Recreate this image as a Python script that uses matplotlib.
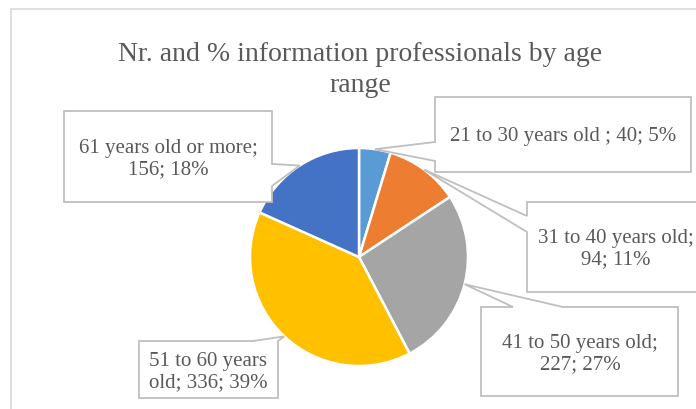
import numpy as np
import matplotlib.pyplot as plt
from matplotlib.patches import Polygon, Rectangle

title = "Nr. and % information professionals by age\nrange"
ages = ["21 to 30 years old ", "31 to 40 years old", "41 to 50 years old",
        "51 to 60 years old", "61 years old or more"]
counts = [40, 94, 227, 336, 156]
colors = ["#5B9BD5", "#ED7D31", "#A5A5A5", "#FFC000", "#4472C4"]
label_text = ["21 to 30 years old ; 40; 5%",
              "31 to 40 years old;\n94; 11%",
              "41 to 50 years old;\n227; 27%",
              "51 to 60 years\nold; 336; 39%",
              "61 years old or more;\n156; 18%"]

W, H = 696, 410
cx, cy, r = 359, H - 258, 109

# callout boxes in pixel coords: (x0, y0, x1, y1), side of the pointer, pointer base, text centre
boxes = [
    ((435, 98, 691, 173), "left", (143, 162), (563, 136)),
    ((527, 203, 720, 293), "left", (217, 233), (616, 249)),
    ((481, 308, 678, 397), "top", (513, 563), (580, 354)),
    ((139, 342, 278, 399), "top", (253, 278), (208, 372)),
    ((64, 112, 272, 203), "right", (165, 187), (168, 159)),
]

txt_col = "#595959"
edge_col = "#BFBFBF"
font = "Liberation Serif"

fig = plt.figure(figsize=(W / 100, H / 100), dpi=100)
ax = fig.add_axes([0, 0, 1, 1])

wedges, _ = ax.pie(counts, colors=colors, startangle=90, counterclock=False,
                   center=(cx, cy), radius=r,
                   wedgeprops=dict(edgecolor="white", linewidth=1.8))
ax.set_xlim(0, W)
ax.set_ylim(0, H)
ax.set_aspect("equal")
ax.axis("off")

# chart frame
ax.add_patch(Rectangle((11, -5), W, H - 10 + 5, fill=False,
                       edgecolor="#D9D9D9", linewidth=1.2, zorder=0))

ax.text(360, H - 70, title, ha="center", va="center", fontsize=20,
        family=font, color=txt_col, linespacing=1.3)

# pointer apex: pie edge at the middle angle of each slice
frac = np.cumsum([0] + counts) / sum(counts)
mid = (frac[:-1] + frac[1:]) / 2
ang = np.deg2rad(90 - 360 * mid)

for i, ((x0, y0, x1, y1), side, (b0, b1), (tx, ty)) in enumerate(boxes):
    ax_pt = (cx + r * np.cos(ang[i]), cy + r * np.sin(ang[i]))
    Y0, Y1 = H - y0, H - y1
    if side == "left":
        pts = [(x0, Y0), (x1, Y0), (x1, Y1), (x0, Y1),
               (x0, H - b1), ax_pt, (x0, H - b0)]
    elif side == "right":
        pts = [(x0, Y0), (x1, Y0), (x1, H - b0), ax_pt,
               (x1, H - b1), (x1, Y1), (x0, Y1)]
    else:
        pts = [(x0, Y0), (b0, Y0), ax_pt, (b1, Y0),
               (x1, Y0), (x1, Y1), (x0, Y1)]
    ax.add_patch(Polygon(pts, closed=True, facecolor="white",
                         edgecolor=edge_col, linewidth=1.3, zorder=3))
    ax.text(tx, H - ty, label_text[i], ha="center", va="center",
            fontsize=15, family=font, color=txt_col, zorder=4,
            linespacing=1.2)

fig.savefig("out.png", dpi=100)
